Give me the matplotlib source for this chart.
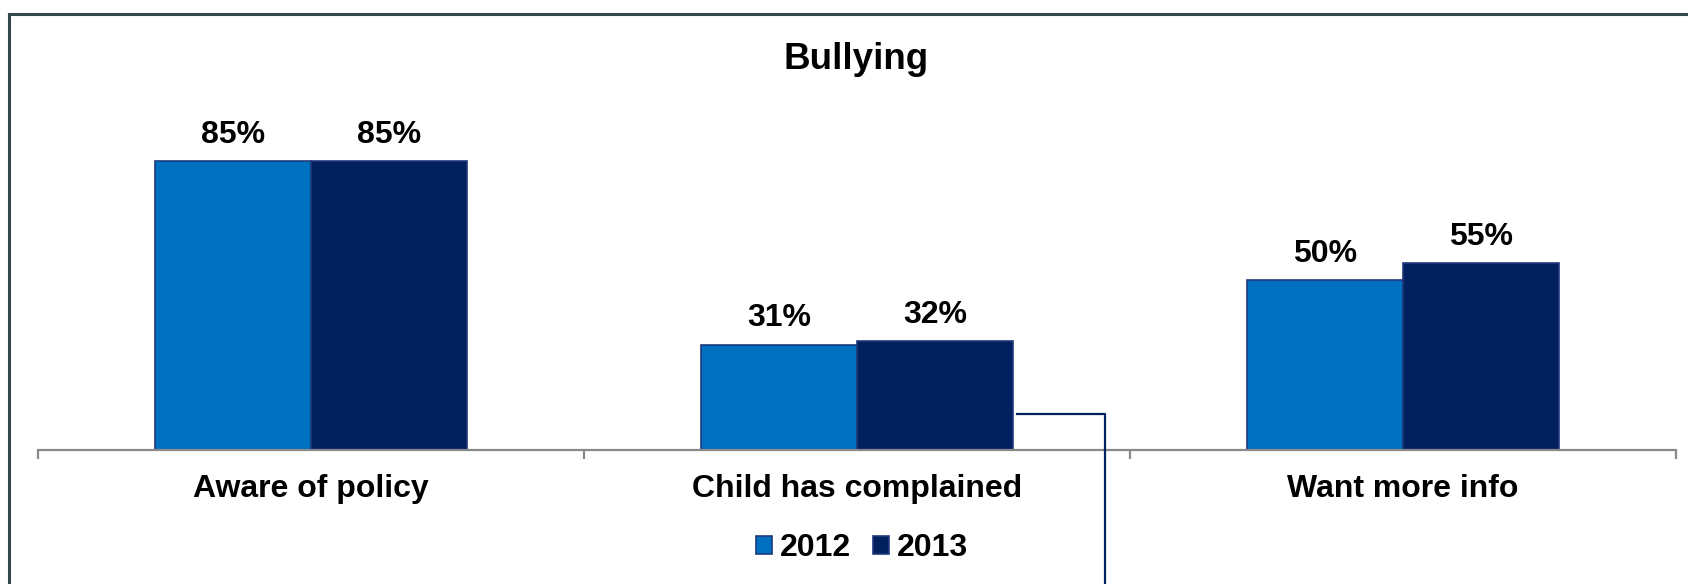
import matplotlib
matplotlib.use("Agg")
import matplotlib.pyplot as plt
from matplotlib.patches import Patch
from matplotlib.lines import Line2D
import numpy as np

categories = ["Aware of policy", "Child has complained", "Want more info"]
series_names = ["2012", "2013"]
values_2012 = [85, 31, 50]
values_2013 = [85, 32, 55]
title = "Bullying"

c2012 = "#0070C0"
c2013 = "#002060"
edge = "#1F3A7A"

plt.rcParams['font.family'] = ['Liberation Sans', 'DejaVu Sans']
FS = 23

W, H = 1688, 584
fig = plt.figure(figsize=(W / 100, H / 100), dpi=100)
fig.patch.set_facecolor("white")

ax = fig.add_axes([38 / W, (H - 450) / H, 1638 / W, 340 / H])
x = np.arange(len(categories))
bw = 0.2857
b1 = ax.bar(x - bw / 2, values_2012, bw, color=c2012, edgecolor=edge, linewidth=1.2, label=series_names[0])
b2 = ax.bar(x + bw / 2, values_2013, bw, color=c2013, edgecolor=edge, linewidth=1.2, label=series_names[1])
for bars in (b1, b2):
    ax.bar_label(bars, labels=[f"{v}%" for v in bars.datavalues], padding=8,
                 fontsize=FS, fontweight="bold", color="black")

ax.set_xlim(-0.5, len(categories) - 0.5)
ax.set_ylim(0, 100)
for s in ["top", "right", "left"]:
    ax.spines[s].set_visible(False)
ax.spines["bottom"].set_color("#898989")
ax.spines["bottom"].set_linewidth(1.6)
ax.set_yticks([])
ax.set_xticks(np.arange(-0.5, len(categories), 1.0))
ax.set_xticklabels([])
ax.tick_params(axis="x", direction="out", length=6.5, width=1.6, color="#898989")
ax.set_facecolor("none")

trans = ax.get_xaxis_transform()
for i, c in enumerate(categories):
    ax.text(i, -47 / 340, c, transform=trans, ha="center", va="baseline",
            fontsize=FS, fontweight="bold", color="black")

fig.text(856 / W, 1 - 69 / H, title, ha="center", va="baseline",
         fontsize=26.5, fontweight="bold", color="black")

handles = [Patch(facecolor=c2012, edgecolor=edge, linewidth=1.2),
           Patch(facecolor=c2013, edgecolor=edge, linewidth=1.2)]
leg = fig.legend(handles, series_names, loc="center", bbox_to_anchor=(862 / W, 1 - 548 / H),
                 ncol=2, frameon=False, handlelength=0.5, handleheight=0.5,
                 handletextpad=0.25, columnspacing=0.7, borderpad=0,
                 prop={"size": FS, "weight": "bold"})

# chart frame (top and left edges) and connector line
fig.add_artist(Line2D([8.5 / W, 8.5 / W], [0, 1 - 14 / H], transform=fig.transFigure,
                      color="#344848", linewidth=2.2))
fig.add_artist(Line2D([8.5 / W, 1], [1 - 14 / H, 1 - 14 / H], transform=fig.transFigure,
                      color="#344848", linewidth=2.2))
fig.add_artist(Line2D([1017 / W, 1105 / W, 1105 / W], [1 - 414 / H, 1 - 414 / H, 0],
                      transform=fig.transFigure, color="#002060", linewidth=1.6))

fig.savefig("out.png", dpi=100, facecolor="white")
